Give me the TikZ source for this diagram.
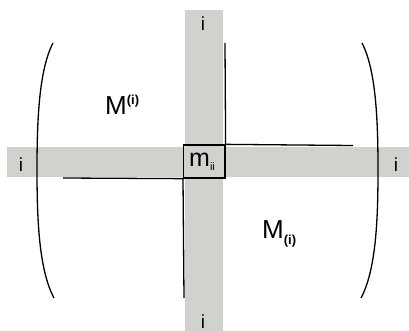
\documentclass[tikz,border=0pt]{standalone}
\usepackage{fontspec}
\setmainfont{Liberation Sans}
\usepackage{tikz}
\usetikzlibrary{positioning}
\definecolor{bandgray}{RGB}{208,210,206}
\newcommand{\lblsize}{\fontsize{19}{21}\selectfont}
\newcommand{\bigsize}{\fontsize{26}{28}\selectfont}
\newcommand{\idxsize}{\fontsize{13}{14}\selectfont}

\begin{document}
\begin{tikzpicture}[x=1pt, y=-1pt,
  band/.style={fill=bandgray, draw=none},
  edge/.style={draw, line width=1.3pt},
  brace/.style={draw, line width=1.3pt},
  lbl/.style={inner sep=0pt, anchor=base},
  big/.style={inner sep=0pt, anchor=base west}
]
\useasboundingbox (0,0) rectangle (409,331);
% gray row and column
\fill[band] (185,10) rectangle (222.7,331);
\fill[band] (7,147) rectangle (409,177);
% pivot entry
\node[draw, line width=1.3pt, minimum width=41.3pt, minimum height=33pt, inner sep=0pt] (mii) at (204.3,161.5) {};
\node[big] at (189,166.5) {\fontsize{25}{27}\selectfont m\raisebox{-4.5pt}{\fontsize{11}{12}\selectfont ii}};
% block borders
\coordinate (top) at (225,43);
\coordinate (right) at (353,145.5);
\coordinate (left) at (63,178);
\coordinate (bottom) at (184,298);
\draw[edge] (mii.north east) -- (top);
\draw[edge] (mii.north east) -- (right);
\draw[edge] (mii.south west) -- (left);
\draw[edge] (mii.south west) -- (bottom);
% parentheses
\draw[brace] (53,43) .. controls (39,70) and (37,120) .. (37,170) .. controls (37,220) and (39,270) .. (54,298);
\draw[brace] (362,43) .. controls (376,70) and (378,120) .. (378,170) .. controls (378,220) and (376,270) .. (361,298);
% index labels
\node[lbl] (itop) at (203,30.5) {\lblsize i};
\node[lbl] (ibot) at (203,328) {\lblsize i};
\node[lbl] (ileft) at (21,171.5) {\lblsize i};
\node[lbl] (iright) at (396,171.5) {\lblsize i};
% blocks
\node[big] (Mup) at (105,115) {\bigsize M\raisebox{10pt}{\idxsize\bfseries (i)}};
\node[big] (Mlow) at (262,238) {\bigsize M\raisebox{-6pt}{\idxsize\bfseries (i)}};
\end{tikzpicture}
\end{document}
